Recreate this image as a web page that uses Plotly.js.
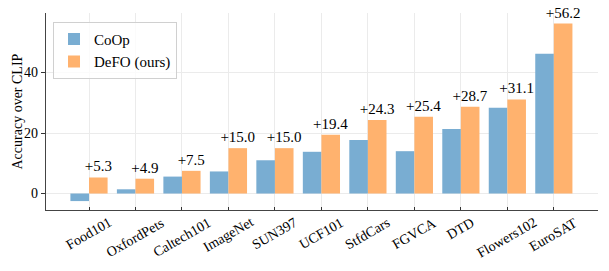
<!DOCTYPE html>
<html>
<head>
<meta charset="utf-8">
<script src="https://cdn.plot.ly/plotly-3.0.1.min.js"></script>
<style>html,body{margin:0;padding:0;background:#fff;}#chart{width:609px;height:271px;}</style>
</head>
<body>
<div id="chart"></div>
<script>
const categories = ["Food101","OxfordPets","Caltech101","ImageNet","SUN397","UCF101","StfdCars","FGVCA","DTD","Flowers102","EuroSAT"];
const coopValues = [-2.5, 1.4, 5.6, 7.3, 11.0, 13.8, 17.7, 14.0, 21.3, 28.4, 46.2];
const defoValues = [5.3, 4.9, 7.5, 15.0, 15.0, 19.4, 24.3, 25.4, 28.7, 31.1, 56.2];
const defoLabels = defoValues.map(v => "+" + v.toFixed(1));
const yTitle = "Accuracy over CLIP";

const font = "Liberation Serif, Times New Roman, serif";

const traces = [
  {type:"bar", name:"CoOp", x:categories, y:coopValues,
   marker:{color:"#79ADD2"}},
  {type:"bar", name:"DeFO (ours)", x:categories, y:defoValues,
   marker:{color:"#FFB26E"}, text:defoLabels, textposition:"outside",
   constraintext:"none", cliponaxis:false,
   textfont:{family:font, size:15, color:"#000"}}
];

// category tick labels, centred under each tick and rotated 30 degrees
const tickAnnotations = categories.map(c => ({
  x:c, xref:"x", y:0, yref:"paper", yanchor:"top", xanchor:"center",
  yshift:-2, text:c, textangle:-30, showarrow:false,
  font:{family:font, size:14, color:"#000"}
}));
const titleAnnotation = {
  x:0, xref:"paper", y:0.5, yref:"paper", xanchor:"center", yanchor:"middle",
  xshift:-29, text:yTitle, textangle:-90, showarrow:false,
  font:{family:font, size:14, color:"#000"}
};

const layout = {
  width:609, height:271,
  margin:{l:46, r:11, t:13, b:61},
  paper_bgcolor:"#fff", plot_bgcolor:"#fff",
  font:{family:font, size:15, color:"#000"},
  barmode:"group", bargap:0.2, bargroupgap:0,
  showlegend:true,
  legend:{x:0.0127, y:0.955, xanchor:"left", yanchor:"top",
          bordercolor:"#d0d0d0", borderwidth:1, bgcolor:"rgba(255,255,255,0.8)",
          font:{family:font, size:15}, tracegroupgap:2},
  annotations:tickAnnotations.concat([titleAnnotation]),
  xaxis:{type:"category", range:[-0.925, 10.95], showticklabels:false,
         showgrid:true, gridcolor:"#ebebeb", gridwidth:1,
         ticks:"inside", ticklen:3, tickcolor:"#333",
         showline:true, linecolor:"#444", linewidth:1.3},
  yaxis:{range:[-5.45, 59.7], tickvals:[0,20,40],
         showgrid:true, gridcolor:"#ebebeb", gridwidth:1, zeroline:false,
         ticks:"outside", ticklen:4, tickcolor:"#333",
         showline:true, linecolor:"#444", linewidth:1.3,
         tickfont:{family:font, size:14}}
};

Plotly.newPlot("chart", traces, layout, {displayModeBar:false, staticPlot:true});
</script>
</body>
</html>
